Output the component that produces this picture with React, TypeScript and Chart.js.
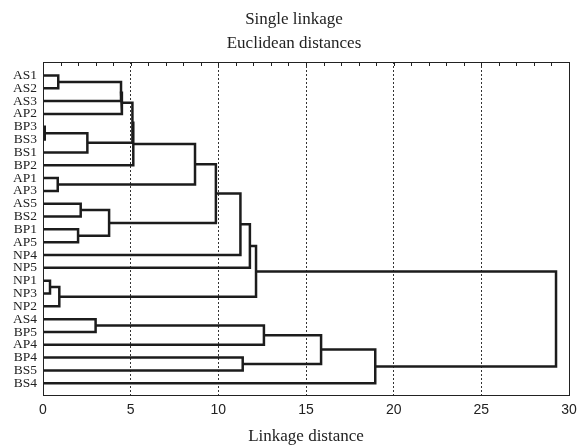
import React, { useEffect, useRef } from "react";
import { Chart, registerables } from "chart.js";

Chart.register(...registerables);

// Leaf labels, top to bottom
const leaves = [
  "AS1", "AS2", "AS3", "AP2", "BP3", "BS3", "BS1", "BP2", "AP1", "AP3",
  "AS5", "BS2", "BP1", "AP5", "NP4", "NP5", "NP1", "NP3", "NP2", "AS4",
  "BP5", "AP4", "BP4", "BS5", "BS4",
];

// Merges: child ids (0..24 = leaves, 25+k = result of merge k) and linkage distance
const mergeLeft = [0, 25, 26, 4, 28, 27, 30, 8, 31, 10, 12, 34, 33, 37, 38, 16, 40, 39, 19, 43, 22, 44, 46, 42];
const mergeRight = [1, 2, 3, 5, 6, 29, 7, 9, 32, 11, 13, 35, 36, 14, 15, 17, 18, 41, 20, 21, 23, 45, 24, 47];
const mergeHeight = [0.87, 4.45, 4.5, 0.1, 2.53, 5.1, 5.15, 0.84, 8.67, 2.15, 2.0, 3.77, 9.86, 11.26, 11.8, 0.4, 0.93, 12.15, 3.0, 12.6, 11.39, 15.86, 18.95, 29.26];

const xTicks = [0, 5, 10, 15, 20, 25, 30];
const titleLines = ["Single linkage", "Euclidean distances"];
const xTitle = "Linkage distance";

const SERIF = "'Liberation Serif', 'Times New Roman', serif";
const SANS = "'Liberation Sans', Arial, sans-serif";
const INK = "#222";

function buildLinks() {
  const pos: number[] = leaves.map((_, i) => i);
  const hgt: number[] = leaves.map(() => 0);
  const links: { x: number; y: number }[][] = [];
  mergeHeight.forEach((h, k) => {
    const a = mergeLeft[k];
    const b = mergeRight[k];
    links.push([
      { x: hgt[a], y: pos[a] },
      { x: h, y: pos[a] },
      { x: h, y: pos[b] },
      { x: hgt[b], y: pos[b] },
    ]);
    pos.push((pos[a] + pos[b]) / 2);
    hgt.push(h);
  });
  return links;
}

const framePlugin = {
  id: "frame",
  afterDatasetsDraw(chart: any) {
    const { ctx, chartArea } = chart;
    const xs = chart.scales.x;
    ctx.save();
    ctx.strokeStyle = INK;
    ctx.lineWidth = 1;
    ctx.strokeRect(
      Math.round(chartArea.left) + 0.5,
      Math.round(chartArea.top) + 0.5,
      Math.round(chartArea.right - chartArea.left),
      Math.round(chartArea.bottom - chartArea.top)
    );
    ctx.beginPath();
    for (let v = xs.min; v <= xs.max; v += 1) {
      const px = Math.round(xs.getPixelForValue(v)) + 0.5;
      ctx.moveTo(px, chartArea.top);
      ctx.lineTo(px, chartArea.top + 4);
    }
    ctx.stroke();
    // two-line title above the plot
    ctx.fillStyle = INK;
    ctx.font = `17px ${SERIF}`;
    ctx.textAlign = "center";
    ctx.textBaseline = "alphabetic";
    const cx = (chartArea.left + chartArea.right) / 2 - 12;
    ctx.fillText(titleLines[0], cx, chartArea.top - 38);
    ctx.fillText(titleLines[1], cx, chartArea.top - 14);
    ctx.restore();
  },
};

export default function App() {
  const ref = useRef<HTMLCanvasElement | null>(null);

  useEffect(() => {
    if (!ref.current) return;
    const links = buildLinks();
    const chart = new Chart(ref.current, {
      type: "scatter",
      data: {
        datasets: links.map((pts) => ({
          data: pts,
          showLine: true,
          borderColor: "#1c1c1c",
          borderWidth: 2.5,
          borderJoinStyle: "miter" as const,
          borderCapStyle: "butt" as const,
          pointRadius: 0,
          tension: 0,
          fill: false,
        })),
      },
      options: {
        animation: false,
        responsive: true,
        maintainAspectRatio: false,
        layout: { padding: { left: 0, right: 10, top: 62, bottom: 0 } },
        plugins: {
          legend: { display: false },
          tooltip: { enabled: false },
          title: { display: false },
        },
        scales: {
          x: {
            type: "linear",
            position: "bottom",
            min: 0,
            max: 30,
            afterBuildTicks: (scale: any) => {
              scale.ticks = xTicks.map((v) => ({ value: v }));
            },
            afterFit: (scale: any) => {
              scale.paddingRight = 0;
              scale.paddingLeft = 0;
            },
            ticks: {
              color: INK,
              font: { family: SANS, size: 14 },
              padding: 7,
              maxRotation: 0,
              autoSkip: false,
            },
            grid: {
              drawTicks: false,
              lineWidth: 1,
              color: (c: any) =>
                c.tick && (c.tick.value === 0 || c.tick.value === 30) ? "rgba(0,0,0,0)" : "#333",
            },
            border: { display: false, dash: [2, 2] },
            title: {
              display: true,
              text: xTitle,
              color: INK,
              font: { family: SERIF, size: 17 },
              padding: { top: 1, bottom: 0 },
            },
          },
          y: {
            type: "linear",
            reverse: true,
            min: -1.05,
            max: 24.9,
            afterBuildTicks: (scale: any) => {
              scale.ticks = leaves.map((_, i) => ({ value: i }));
            },
            afterFit: (scale: any) => {
              scale.width = 43;
            },
            ticks: {
              color: INK,
              font: { family: SERIF, size: 13.5 },
              padding: 6,
              autoSkip: false,
              callback: (v: any) => leaves[v as number] ?? "",
            },
            grid: { display: false, drawTicks: false },
            border: { display: false },
          },
        },
      },
      plugins: [framePlugin],
    } as any);
    return () => chart.destroy();
  }, []);

  return (
    <div style={{ position: "absolute", left: 0, top: 0, width: 579, height: 447, background: "#fff" }}>
      <canvas ref={ref} />
    </div>
  );
}
